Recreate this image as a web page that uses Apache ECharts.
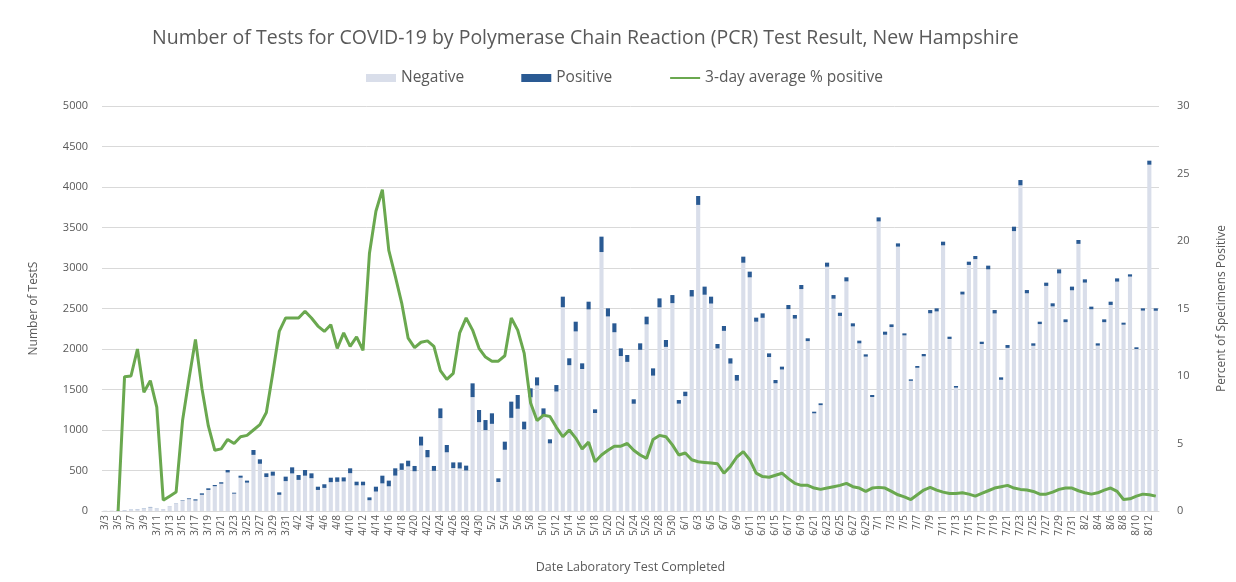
<!DOCTYPE html>
<html>
<head>
<meta charset="utf-8">
<script src="https://cdn.jsdelivr.net/npm/echarts@6/dist/echarts.min.js"></script>
<style>
html,body{margin:0;padding:0;background:#fff;}
#chart{width:1236px;height:582px;}
</style>
</head>
<body>
<div id="chart"></div>
<script>
const categories = [
"3/3","3/4","3/5","3/6","3/7","3/8","3/9","3/10","3/11","3/12","3/13","3/14","3/15","3/16","3/17","3/18","3/19","3/20","3/21","3/22","3/23","3/24","3/25","3/26","3/27","3/28","3/29","3/30","3/31",
"4/1","4/2","4/3","4/4","4/5","4/6","4/7","4/8","4/9","4/10","4/11","4/12","4/13","4/14","4/15","4/16","4/17","4/18","4/19","4/20","4/21","4/22","4/23","4/24","4/25","4/26","4/27","4/28","4/29","4/30",
"5/1","5/2","5/3","5/4","5/5","5/6","5/7","5/8","5/9","5/10","5/11","5/12","5/13","5/14","5/15","5/16","5/17","5/18","5/19","5/20","5/21","5/22","5/23","5/24","5/25","5/26","5/27","5/28","5/29","5/30","5/31",
"6/1","6/2","6/3","6/4","6/5","6/6","6/7","6/8","6/9","6/10","6/11","6/12","6/13","6/14","6/15","6/16","6/17","6/18","6/19","6/20","6/21","6/22","6/23","6/24","6/25","6/26","6/27","6/28","6/29","6/30",
"7/1","7/2","7/3","7/4","7/5","7/6","7/7","7/8","7/9","7/10","7/11","7/12","7/13","7/14","7/15","7/16","7/17","7/18","7/19","7/20","7/21","7/22","7/23","7/24","7/25","7/26","7/27","7/28","7/29","7/30","7/31",
"8/1","8/2","8/3","8/4","8/5","8/6","8/7","8/8","8/9","8/10","8/11","8/12","8/13"
];

// total tests per day (negative + positive)
const totalTests = [
5,5,10,12,18,22,30,50,30,25,60,95,136,156,144,218,280,321,355,506,226,436,375,753,638,465,486,230,424,
539,444,506,465,300,330,411,415,415,527,362,362,168,300,436,375,527,588,621,556,918,753,556,1267,815,600,600,560,1576,1247,
1123,1206,403,856,1350,1432,1103,1514,1650,1267,885,1555,2646,1885,2337,1823,2584,1255,3387,2502,2317,2008,1926,1379,2070,2399,1761,2625,2111,2666,1370,
1473,2728,3889,2770,2646,2062,2284,1885,1679,3140,2955,2387,2440,1946,1617,1782,2543,2420,2790,2132,1226,1329,3066,2666,2448,2885,2317,2103,1934,1432,
3625,2214,2304,3304,2193,1625,1790,1938,2481,2502,3325,2152,1543,2708,3078,3148,2090,3029,2481,1650,2049,3510,4086,2728,2070,2337,2819,2564,2983,2366,2770,
3346,2860,2523,2070,2366,2584,2872,2325,2922,2021,2502,4325,2502
];

const positive = [
0,0,1,1,2,2,3,4,2,1,1,2,5,10,15,18,20,15,18,30,12,25,25,60,55,45,50,30,55,
75,60,70,60,40,45,55,55,50,60,45,45,35,60,95,70,90,80,70,65,110,90,60,120,90,70,75,60,170,150,
125,130,45,100,200,170,95,110,100,90,50,80,130,85,120,70,95,45,190,100,110,95,85,55,80,95,90,110,85,100,45,
55,80,110,100,85,55,60,65,70,75,70,50,55,45,40,35,50,45,50,35,20,22,50,45,40,50,38,33,28,25,
50,38,33,40,25,18,22,28,40,38,45,28,20,35,40,38,28,45,42,30,35,55,65,40,30,30,40,38,50,35,45,
48,40,32,28,35,40,40,25,28,22,28,50,30
];

const negative = totalTests.map((t, i) => t - positive[i]);

const pctPositive3Day = [
null,null,0,9.95,10.0,12.0,8.8,9.65,7.7,0.8,1.1,1.4,6.7,9.8,12.7,9.1,6.3,4.5,4.6,5.3,5.0,5.5,5.6,6.0,6.4,7.3,10.2,13.3,14.3,
14.3,14.3,14.8,14.3,13.7,13.3,13.8,12.05,13.2,12.2,12.9,11.9,19.1,22.2,23.8,19.3,17.4,15.4,12.8,12.1,12.5,12.6,12.2,10.4,9.75,10.2,13.2,14.3,13.4,12.05,
11.4,11.1,11.1,11.5,14.3,13.4,11.7,8.0,6.7,7.1,7.0,6.2,5.5,6.0,5.4,4.6,5.1,3.65,4.15,4.5,4.8,4.8,5.0,4.5,4.15,3.9,5.3,5.6,5.5,4.9,4.15,
4.3,3.8,3.65,3.6,3.55,3.5,2.8,3.3,4.0,4.4,3.8,2.8,2.55,2.5,2.65,2.8,2.4,2.05,1.9,1.9,1.7,1.6,1.7,1.8,1.9,2.05,1.8,1.7,1.45,1.7,
1.75,1.7,1.45,1.2,1.05,0.85,1.2,1.55,1.75,1.55,1.4,1.3,1.3,1.35,1.25,1.1,1.3,1.5,1.7,1.8,1.9,1.7,1.6,1.55,1.45,1.25,1.25,1.4,1.6,1.7,1.7,
1.5,1.35,1.25,1.35,1.55,1.7,1.45,0.85,0.9,1.1,1.25,1.2,1.1
];

const leftTicks = [0,500,1000,1500,2000,2500,3000,3500,4000,4500,5000];
const rightTicks = [0,5,10,15,20,25,30];

const FONT = "'Open Sans', 'Liberation Sans', sans-serif";
const TXT = '#595959';
const GREEN = '#6aa84f';

const chart = echarts.init(document.getElementById('chart'), null, {renderer: 'canvas'});
chart.setOption({
  animation: false,
  backgroundColor: '#ffffff',
  textStyle: {fontFamily: FONT, color: TXT},
  title: {
    text: 'Number of Tests for COVID-19 by Polymerase Chain Reaction (PCR) Test Result, New Hampshire',
    left: 147, top: 23,
    textStyle: {fontFamily: FONT, fontSize: 19.5, fontWeight: 'normal', color: TXT}
  },
  legend: {
    left: 361, top: 65,
    itemWidth: 30, itemHeight: 8, itemGap: 57,
    textStyle: {fontFamily: FONT, fontSize: 15.5, color: TXT},
    data: [
      {name: 'Negative', icon: 'rect'},
      {name: 'Positive', icon: 'rect'},
      {name: '3-day average % positive', itemStyle: {opacity: 0}}
    ]
  },
  grid: {left: 102, right: 77, top: 106, bottom: 71, containLabel: false},
  xAxis: {
    type: 'category',
    data: categories,
    boundaryGap: true,
    name: 'Date Laboratory Test Completed',
    nameLocation: 'middle',
    nameGap: 50,
    nameTextStyle: {fontFamily: FONT, fontSize: 12.5, color: TXT},
    axisLine: {show: true, lineStyle: {color: '#d9d9d9'}},
    axisTick: {show: false},
    axisLabel: {interval: 1, rotate: 90, fontSize: 10, color: TXT, fontFamily: FONT, margin: 4}
  },
  yAxis: [
    {
      type: 'value', min: 0, max: 5000, interval: 500,
      name: 'Number of TestS', nameLocation: 'middle', nameGap: 62, nameRotate: 90,
      nameTextStyle: {fontFamily: FONT, fontSize: 12, color: TXT},
      axisLine: {show: false}, axisTick: {show: false},
      axisLabel: {fontSize: 11, color: TXT, fontFamily: FONT, margin: 14,
        formatter: v => leftTicks.indexOf(v) >= 0 ? String(v) : ''},
      splitLine: {show: true, lineStyle: {color: '#d9d9d9', width: 1}}
    },
    {
      type: 'value', min: 0, max: 30, interval: 5,
      name: 'Percent of Specimens Positive', nameLocation: 'middle', nameGap: 57, nameRotate: 90,
      nameTextStyle: {fontFamily: FONT, fontSize: 12, color: TXT},
      axisLine: {show: false}, axisTick: {show: false},
      axisLabel: {fontSize: 11, color: TXT, fontFamily: FONT, margin: 18,
        formatter: v => rightTicks.indexOf(v) >= 0 ? String(v) : ''},
      splitLine: {show: false}
    }
  ],
  series: [
    {
      name: 'Negative', type: 'bar', stack: 'tests', data: negative,
      barCategoryGap: '36%',
      itemStyle: {color: '#d9deea'}
    },
    {
      name: 'Positive', type: 'bar', stack: 'tests', data: positive,
      itemStyle: {color: '#2a5a93'}
    },
    {
      name: '3-day average % positive', type: 'line', yAxisIndex: 1,
      data: pctPositive3Day, symbol: 'none', showSymbol: false,
      lineStyle: {color: GREEN, width: 3},
      itemStyle: {color: GREEN},
      z: 5
    }
  ]
});
</script>
</body>
</html>
